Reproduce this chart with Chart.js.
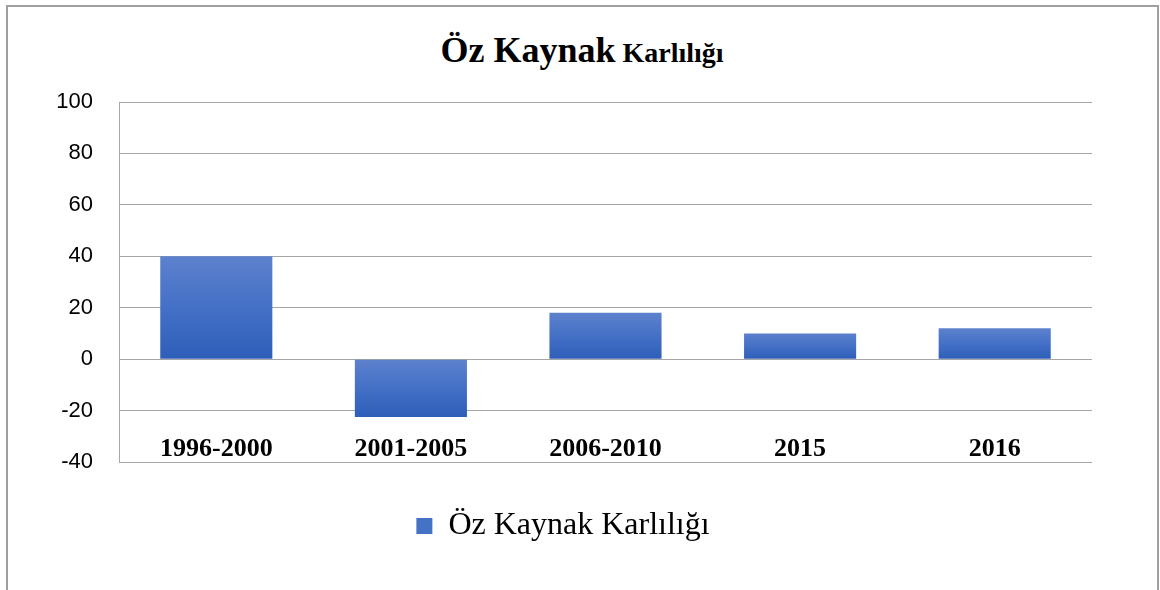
<!DOCTYPE html>
<html>
<head>
<meta charset="utf-8">
<script src="https://cdn.jsdelivr.net/npm/chart.js@4/dist/chart.umd.min.js"></script>
<style>
  html, body { margin: 0; padding: 0; background: #fff; overflow: hidden; }
  #frame { position: absolute; left: 6px; top: 5px; width: 1153px; height: 700px;
           box-sizing: border-box; border: 2px solid #a0a0a0; border-bottom: none; }
  #title { position: absolute; left: 0; width: 1164px; top: 28px; line-height: 44px;
           text-align: center; font-family: "Liberation Serif", "Times New Roman", serif;
           font-weight: bold; color: #000; white-space: nowrap; }
  #title .a { font-size: 36px; }
  #title .b { font-size: 28px; }
  #wrap { position: absolute; left: 0; top: 0; width: 1160px; height: 598px; }
</style>
</head>
<body>
<div id="frame"></div>
<div id="title"><span class="a">Öz Kaynak</span><span class="b"> Karlılığı</span></div>
<div id="wrap"><canvas id="c"></canvas></div>
<script>
const categories = ["1996-2000", "2001-2005", "2006-2010", "2015", "2016"];
const seriesName = "Öz Kaynak Karlılığı";
const values = [40, -22.5, 18, 10, 12];
const yTicks = [100, 80, 60, 40, 20, 0, -20, -40];

function barGradient(context) {
  const chart = context.chart;
  const area = chart.chartArea;
  if (!area || context.raw === undefined) return "#4472c4";
  const y = chart.scales.y;
  const v = context.raw;
  const top = y.getPixelForValue(Math.max(v, 0));
  const bot = y.getPixelForValue(Math.min(v, 0));
  const g = chart.ctx.createLinearGradient(0, top, 0, bot);
  g.addColorStop(0, "#5d81cd");
  g.addColorStop(0.5, "#4470c6");
  g.addColorStop(1, "#2e5eb9");
  return g;
}

const xLabelPlugin = {
  id: "xLabels",
  afterDatasetsDraw(chart) {
    const ctx = chart.ctx;
    const xs = chart.scales.x, ys = chart.scales.y;
    ctx.save();
    ctx.font = "bold 26px 'Liberation Serif', 'Times New Roman', serif";
    ctx.fillStyle = "#000";
    ctx.textAlign = "center";
    ctx.textBaseline = "middle";
    categories.forEach((c, i) => {
      ctx.fillText(c, xs.getPixelForValue(i), ys.getPixelForValue(yTicks[yTicks.length - 1]) - 13);
    });
    ctx.restore();
  }
};

new Chart(document.getElementById("c"), {
  type: "bar",
  data: {
    labels: categories,
    datasets: [{
      label: seriesName,
      data: values,
      backgroundColor: barGradient,
      borderWidth: 0,
      categoryPercentage: 1,
      barPercentage: 0.576
    }]
  },
  options: {
    responsive: true,
    maintainAspectRatio: false,
    animation: false,
    layout: { padding: { top: 102, left: 34, right: 68, bottom: 46 } },
    plugins: {
      title: { display: false },
      tooltip: { enabled: false },
      legend: {
        position: "bottom",
        labels: {
          boxWidth: 16,
          boxHeight: 16,
          padding: 48,
          color: "#000",
          font: { family: "'Liberation Serif', 'Times New Roman', serif", size: 32 },
          generateLabels: (chart) => [{
            text: seriesName,
            fillStyle: "#4472c4",
            strokeStyle: "#4472c4",
            lineWidth: 0,
            datasetIndex: 0
          }]
        }
      }
    },
    scales: {
      x: { display: false },
      y: {
        min: -40,
        max: 100,
        afterFit: (s) => { s.width = 85; },
        afterBuildTicks: (s) => { s.ticks = yTicks.map(v => ({ value: v })); },
        ticks: {
          padding: 26,
          color: "#000",
          font: { family: "'Liberation Sans', Arial, sans-serif", size: 22 }
        },
        grid: { color: "#a6a6a6", lineWidth: 1, drawTicks: false },
        border: { display: true, color: "#a6a6a6", width: 1 }
      }
    }
  },
  plugins: [xLabelPlugin]
});
</script>
</body>
</html>
